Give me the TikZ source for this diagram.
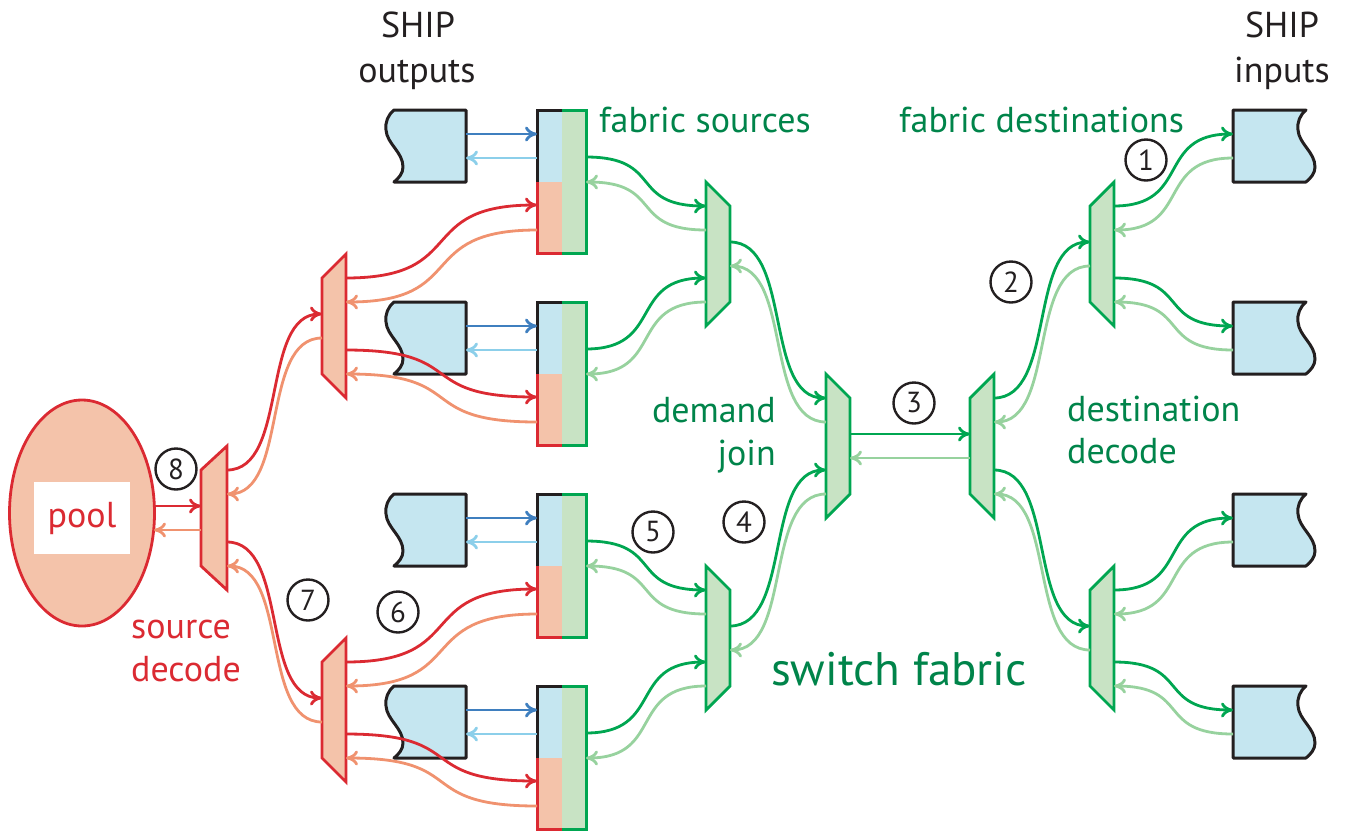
\documentclass[tikz,border=0pt]{standalone}
\usepackage{fontspec}
\setmainfont{PT Sans}
\usetikzlibrary{arrows.meta,calc,shapes.geometric}

\definecolor{ink}{HTML}{231F20}
\definecolor{fabtext}{HTML}{00844A}
\definecolor{gline}{HTML}{00A651}
\definecolor{glight}{HTML}{97D29E}
\definecolor{gfill}{HTML}{C8E3C4}
\definecolor{rline}{HTML}{DB2A32}
\definecolor{rlight}{HTML}{F0926F}
\definecolor{rfill}{HTML}{F4C3AA}
\definecolor{bfill}{HTML}{C5E6F0}
\definecolor{bdark}{HTML}{3F7FBF}
\definecolor{blight}{HTML}{8CCFEA}

\tikzset{
  conn/.style={line width=2.8pt},
  shipbox/.style={draw=ink,fill=bfill,line width=3pt,line join=round},
  muxg/.style={draw=gline,fill=gfill,line width=2.8pt,line join=miter},
  muxr/.style={draw=rline,fill=rfill,line width=2.8pt,line join=miter},
  num/.style={circle,draw=ink,line width=2.4pt,minimum size=41pt,inner sep=0pt,
    text=ink,font=\fontsize{29}{30}\selectfont},
  lbl/.style={inner sep=0pt,font=\fontsize{36}{40}\selectfont},
}

% S-shaped connector from a left port to a right port
\newcommand\link[3]{%
  \draw[conn,#1] let \p1=(#2), \p2=(#3), \n1={0.65*(\x2-\x1)} in
    (#2) .. controls +(\n1,0) and +(-\n1,0) .. (#3);}

% SHIP output register (wavy left edge), top y = #2
\newcommand\shipoutbox[2]{%
  \filldraw[shipbox] (466,#2) -- (394,#2)
    .. controls (388,#2+5) and (385,#2+12) .. (386,#2+20)
    .. controls (387,#2+34) and (403,#2+42) .. (403,#2+57)
    .. controls (403,#2+63) and (399,#2+68) .. (394,#2+72)
    -- (466,#2+72) -- cycle;
  \coordinate (#1-o) at (466,#2+24);
  \coordinate (#1-i) at (466,#2+48);}

% SHIP input register (wavy right edge), top y = #2
\newcommand\shipinbox[2]{%
  \filldraw[shipbox] (1233,#2) -- (1306,#2)
    .. controls (1300,#2+5) and (1297,#2+12) .. (1298,#2+20)
    .. controls (1299,#2+34) and (1315,#2+42) .. (1315,#2+57)
    .. controls (1315,#2+63) and (1311,#2+68) .. (1306,#2+72)
    -- (1233,#2+72) -- cycle;
  \coordinate (#1-i) at (1233,#2+24);
  \coordinate (#1-o) at (1233,#2+48);}

% fabric source bar, top y = #2
\newcommand\srcbar[2]{%
  \fill[bfill] (537,#2) rectangle (562,#2+72);
  \fill[rfill] (537,#2+72) rectangle (562,#2+143);
  \fill[gfill] (562,#2) rectangle (586,#2+143);
  \draw[ink,line width=3pt] (562,#2) -- (537,#2) -- (537,#2+72);
  \draw[rline,line width=3pt] (537,#2+72) -- (537,#2+143) -- (562,#2+143);
  \draw[gline,line width=3pt] (562,#2) -- (586,#2) -- (586,#2+143) -- (562,#2+143);
  \coordinate (#1-bo) at (537,#2+24);
  \coordinate (#1-bi) at (537,#2+48);
  \coordinate (#1-ri) at (537,#2+95);
  \coordinate (#1-so) at (537,#2+120);
  \coordinate (#1-go) at (586,#2+47);
  \coordinate (#1-gi) at (586,#2+72);}

% joining mux: wide side on the left; left x = #3, centre y = #4
\newcommand\joinmux[4]{%
  \filldraw[#2] (#3,#4-72) -- (#3+24,#4-48) -- (#3+24,#4+48) -- (#3,#4+72) -- cycle;
  \coordinate (#1-i1) at (#3,#4-48);
  \coordinate (#1-o1) at (#3,#4-24);
  \coordinate (#1-i2) at (#3,#4+24);
  \coordinate (#1-o2) at (#3,#4+48);
  \coordinate (#1-o) at (#3+24,#4-12);
  \coordinate (#1-i) at (#3+24,#4+12);}

% decoding mux: wide side on the right; left x = #3, centre y = #4, width #5
\newcommand\decmux[5]{%
  \filldraw[#2] (#3,#4-48) -- (#3+#5,#4-72) -- (#3+#5,#4+72) -- (#3,#4+48) -- cycle;
  \coordinate (#1-i) at (#3,#4-12);
  \coordinate (#1-o) at (#3,#4+12);
  \coordinate (#1-o1) at (#3+#5,#4-48);
  \coordinate (#1-i1) at (#3+#5,#4-24);
  \coordinate (#1-o2) at (#3+#5,#4+24);
  \coordinate (#1-i2) at (#3+#5,#4+48);}

\begin{document}
\begin{tikzpicture}[x=1pt,y=-1pt,>={To[length=12pt,width=15pt]}]
\useasboundingbox (0,0) rectangle (1346,831);

% ---- SHIP registers and fabric source bars
\shipoutbox{s1}{110} \shipoutbox{s2}{302} \shipoutbox{s3}{494} \shipoutbox{s4}{686}
\srcbar{b1}{110} \srcbar{b2}{302} \srcbar{b3}{494} \srcbar{b4}{686}
\shipinbox{d1}{110} \shipinbox{d2}{302} \shipinbox{d3}{494} \shipinbox{d4}{686}

% ---- muxes
\decmux{pm}{muxr}{201}{518}{26}
\decmux{rm1}{muxr}{322}{326}{24}
\decmux{rm2}{muxr}{322}{710}{24}
\joinmux{jm1}{muxg}{706}{254}
\joinmux{jm2}{muxg}{706}{638}
\joinmux{cj}{muxg}{826}{446}
\decmux{dd}{muxg}{970}{446}{24}
\decmux{dm1}{muxg}{1090}{254}{24}
\decmux{dm2}{muxg}{1090}{638}{24}

% ---- pool
\node[ellipse,draw=rline,fill=rfill,line width=2.8pt,minimum width=145pt,
  minimum height=226pt,inner sep=0pt] (pool) at (82,513) {};
\node[fill=white,minimum width=96pt,minimum height=72pt,inner sep=0pt,
  text=rline,font=\fontsize{36}{40}\selectfont] (poollbl) at (82,518) {pool};
\coordinate (pool-o) at (154,506);
\coordinate (pool-i) at (154,530);

% ---- source decode connectors
\link{rline,->}{pool-o}{pm-i}
\link{rlight,<-}{pool-i}{pm-o}
\link{rline,->}{pm-o1}{rm1-i}
\link{rlight,<-}{pm-i1}{rm1-o}
\link{rline,->}{pm-o2}{rm2-i}
\link{rlight,<-}{pm-i2}{rm2-o}
\link{rline,->}{rm1-o1}{b1-ri}
\link{rlight,<-}{rm1-i1}{b1-so}
\link{rline,->}{rm1-o2}{b2-ri}
\link{rlight,<-}{rm1-i2}{b2-so}
\link{rline,->}{rm2-o1}{b3-ri}
\link{rlight,<-}{rm2-i1}{b3-so}
\link{rline,->}{rm2-o2}{b4-ri}
\link{rlight,<-}{rm2-i2}{b4-so}

% ---- SHIP outputs to fabric sources
\foreach \k in {1,...,4}{
  \link{bdark,->}{s\k-o}{b\k-bo}
  \link{blight,<-}{s\k-i}{b\k-bi}
}

% ---- switch fabric connectors
\link{gline,->}{b1-go}{jm1-i1}
\link{glight,<-}{b1-gi}{jm1-o1}
\link{gline,->}{b2-go}{jm1-i2}
\link{glight,<-}{b2-gi}{jm1-o2}
\link{gline,->}{b3-go}{jm2-i1}
\link{glight,<-}{b3-gi}{jm2-o1}
\link{gline,->}{b4-go}{jm2-i2}
\link{glight,<-}{b4-gi}{jm2-o2}
\link{gline,->}{jm1-o}{cj-i1}
\link{glight,<-}{jm1-i}{cj-o1}
\link{gline,->}{jm2-o}{cj-i2}
\link{glight,<-}{jm2-i}{cj-o2}
\link{gline,->}{cj-o}{dd-i}
\link{glight,<-}{cj-i}{dd-o}
\link{gline,->}{dd-o1}{dm1-i}
\link{glight,<-}{dd-i1}{dm1-o}
\link{gline,->}{dd-o2}{dm2-i}
\link{glight,<-}{dd-i2}{dm2-o}
\link{gline,->}{dm1-o1}{d1-i}
\link{glight,<-}{dm1-i1}{d1-o}
\link{gline,->}{dm1-o2}{d2-i}
\link{glight,<-}{dm1-i2}{d2-o}
\link{gline,->}{dm2-o1}{d3-i}
\link{glight,<-}{dm2-i1}{d3-o}
\link{gline,->}{dm2-o2}{d4-i}
\link{glight,<-}{dm2-i2}{d4-o}

% ---- step numbers
\node[num] (n1) at (1146,160) {1};
\node[num] (n2) at (1011,282) {2};
\node[num] (n3) at (914,403) {3};
\node[num] (n4) at (744,522) {4};
\node[num] (n5) at (653,532) {5};
\node[num] (n6) at (398,612) {6};
\node[num] (n7) at (308,600) {7};
\node[num] (n8) at (176,469) {8};

% ---- labels
\node[lbl,text=ink,anchor=base] (so1) at (418,37) {SHIP};
\node[lbl,text=ink,anchor=base] (so2) at (417,82) {outputs};
\node[lbl,text=ink,anchor=base] (si1) at (1282,37) {SHIP};
\node[lbl,text=ink,anchor=base] (si2) at (1282,82) {inputs};
\node[lbl,text=fabtext,anchor=base west] (fs) at (599,132) {fabric sources};
\node[lbl,text=fabtext,anchor=base west] (fd) at (899,132) {fabric destinations};
\node[lbl,text=fabtext,anchor=base east] (dj1) at (776,422) {demand};
\node[lbl,text=fabtext,anchor=base east] (dj2) at (776,465) {join};
\node[lbl,text=fabtext,anchor=base west] (dc1) at (1067,421) {destination};
\node[lbl,text=fabtext,anchor=base west] (dc2) at (1067,463) {decode};
\node[lbl,text=rline,anchor=base west] (sd1) at (131,638) {source};
\node[lbl,text=rline,anchor=base west] (sd2) at (131,681) {decode};
\node[inner sep=0pt,text=fabtext,anchor=base west,font=\fontsize{47}{50}\selectfont]
  (sf) at (771,685) {switch fabric};
\end{tikzpicture}
\end{document}
